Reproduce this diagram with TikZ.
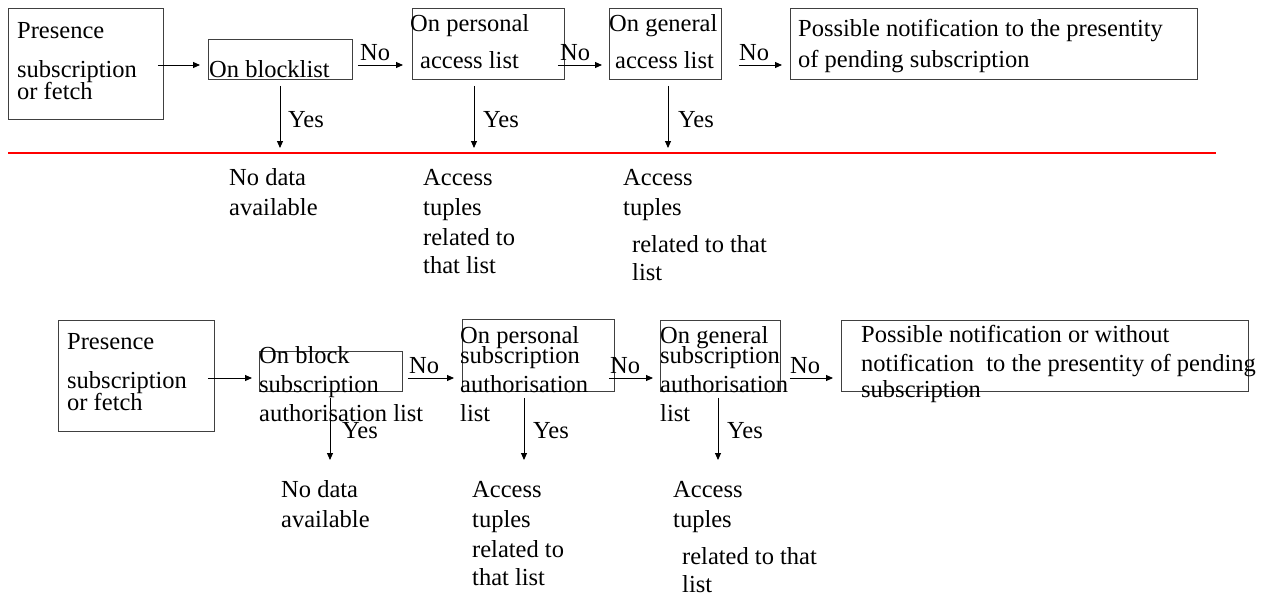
\documentclass[tikz,border=0pt]{standalone}
\usepackage{fontspec}
\setmainfont{Liberation Serif}
\usetikzlibrary{arrows.meta,calc}
\begin{document}
\begin{tikzpicture}[x=1pt,y=-1pt,
  box/.style={draw=black!75,line width=0.9pt,inner sep=0,anchor=north west},
  txt/.style={anchor=base west,inner sep=0,font=\fontsize{24.5}{28}\selectfont},
  arr/.style={line width=0.9pt,-{Triangle[length=7pt,width=6pt]}},
  sep/.style={draw=red,line width=2pt}]
\useasboundingbox (0,0) rectangle (1269,600);

% ---------- upper flow: boxes ----------
\node[box,minimum width=155pt,minimum height=111pt] (ta) at (8,8) {};
\node[box,minimum width=144pt,minimum height=40pt] (tb) at (208,39) {};
\node[box,minimum width=152pt,minimum height=71pt] (tc) at (412,8) {};
\node[box,minimum width=112pt,minimum height=71pt] (td) at (609,8) {};
\node[box,minimum width=407pt,minimum height=71pt] (te) at (790,8) {};

% upper flow: box texts
\node[txt] (ta1) at (17,38) {Presence};
\node[txt] (ta2) at (17,77) {subscription};
\node[txt] (ta3) at (17,99) {or fetch};
\node[txt] (tb1) at (209,77) {On blocklist};
\node[txt] (tc1) at (410,31) {On personal};
\node[txt] (tc2) at (420,68) {access list};
\node[txt] (td1) at (609,31) {On general};
\node[txt] (td2) at (615,68) {access list};
\node[txt] (te1) at (798,36) {Possible notification to the presentity};
\node[txt] (te2) at (798,67) {of pending subscription};

% upper flow: "No" connectors
\coordinate (trow) at (0,65);
\draw[arr] ($(ta.east |- trow)+(-6,0)$) -- ($(tb.west |- trow)+(-8,0)$);
\draw[arr] ($(tb.east |- trow)+(5,0)$) -- ($(tc.west |- trow)+(-9,0)$);
\draw[arr] ($(tc.east |- trow)+(-7,0)$) -- ($(td.west |- trow)+(-7,0)$);
\draw[arr] ($(td.east |- trow)+(17,0)$) -- ($(te.west |- trow)+(-8,0)$);
\node[txt] (tn1) at (360,60) {No};
\node[txt] (tn2) at (560,60) {No};
\node[txt] (tn3) at (739,60) {No};

% upper flow: "Yes" connectors
\coordinate (tyb) at (280,148);
\coordinate (tyc) at (474,148);
\coordinate (tyd) at (668,148);
\draw[arr] ($(tb.south -| tyb)+(0,6)$) -- (tyb);
\draw[arr] ($(tc.south -| tyc)+(0,6)$) -- (tyc);
\draw[arr] ($(td.south -| tyd)+(0,6)$) -- (tyd);
\node[txt] (ty1) at (288,127) {Yes};
\node[txt] (ty2) at (483,127) {Yes};
\node[txt] (ty3) at (678,127) {Yes};

% separator
\coordinate (sepL) at (8,153);
\coordinate (sepR) at (1216,153);
\draw[sep] (sepL) -- (sepR);

% upper flow: outcomes
\node[txt] (to1) at (229,185) {No data};
\node[txt] (to2) at (229,215) {available};
\node[txt] (to3) at (423,185) {Access};
\node[txt] (to4) at (423,215) {tuples};
\node[txt] (to5) at (423,245) {related to};
\node[txt] (to6) at (423,273) {that list};
\node[txt] (to7) at (623,185) {Access};
\node[txt] (to8) at (623,215) {tuples};
\node[txt] (to9) at (632,252) {related to that};
\node[txt] (to10) at (632,280) {list};

% ---------- lower flow: boxes ----------
\node[box,minimum width=156pt,minimum height=111pt] (ba) at (58,320) {};
\node[box,minimum width=143pt,minimum height=40pt] (bb) at (259,351) {};
\node[box,minimum width=152pt,minimum height=72pt] (bc) at (462,319) {};
\node[box,minimum width=120pt,minimum height=71pt] (bd) at (660,320) {};
\node[box,minimum width=407pt,minimum height=71pt] (be) at (841,320) {};

% lower flow: box texts
\node[txt] (ba1) at (67,349) {Presence};
\node[txt] (ba2) at (67,388) {subscription};
\node[txt] (ba3) at (67,410) {or fetch};
\node[txt] (bb1) at (259,363) {On block};
\node[txt] (bb2) at (259,392) {subscription};
\node[txt] (bb3) at (259,421) {authorisation list};
\node[txt] (bc1) at (460,343) {On personal};
\node[txt] (bc2) at (460,363) {subscription};
\node[txt] (bc3) at (460,392) {authorisation};
\node[txt] (bc4) at (460,421) {list};
\node[txt] (bd1) at (660,343) {On general};
\node[txt] (bd2) at (660,363) {subscription};
\node[txt] (bd3) at (660,392) {authorisation};
\node[txt] (bd4) at (660,421) {list};
\node[txt] (be1) at (861,342) {Possible notification or without};
\node[txt] (be2) at (861,371) {notification\ \ to the presentity of pending};
\node[txt] (be3) at (861,397) {subscription};

% lower flow: "No" connectors
\coordinate (brow) at (0,378);
\draw[arr] ($(ba.east |- brow)+(-7,0)$) -- ($(bb.west |- brow)+(-7,0)$);
\draw[arr] ($(bb.east |- brow)+(5,0)$) -- ($(bc.west |- brow)+(-8,0)$);
\draw[arr] ($(bc.east |- brow)+(-6,0)$) -- ($(bd.west |- brow)+(-7,0)$);
\draw[arr] ($(bd.east |- brow)+(9,0)$) -- ($(be.west |- brow)+(-8,0)$);
\node[txt] (bn1) at (409,373) {No};
\node[txt] (bn2) at (610,373) {No};
\node[txt] (bn3) at (790,373) {No};

% lower flow: "Yes" connectors
\coordinate (byb) at (330,460);
\coordinate (byc) at (524,460);
\coordinate (byd) at (718,460);
\draw[arr] ($(bb.south -| byb)+(0,6)$) -- (byb);
\draw[arr] ($(bc.south -| byc)+(0,6)$) -- (byc);
\draw[arr] ($(bd.south -| byd)+(0,6)$) -- (byd);
\node[txt] (by1) at (342,438) {Yes};
\node[txt] (by2) at (533,438) {Yes};
\node[txt] (by3) at (727,438) {Yes};

% lower flow: outcomes
\node[txt] (bo1) at (281,497) {No data};
\node[txt] (bo2) at (281,527) {available};
\node[txt] (bo3) at (472,497) {Access};
\node[txt] (bo4) at (472,527) {tuples};
\node[txt] (bo5) at (472,557) {related to};
\node[txt] (bo6) at (472,585) {that list};
\node[txt] (bo7) at (673,497) {Access};
\node[txt] (bo8) at (673,527) {tuples};
\node[txt] (bo9) at (682,564) {related to that};
\node[txt] (bo10) at (682,592) {list};
\end{tikzpicture}
\end{document}
